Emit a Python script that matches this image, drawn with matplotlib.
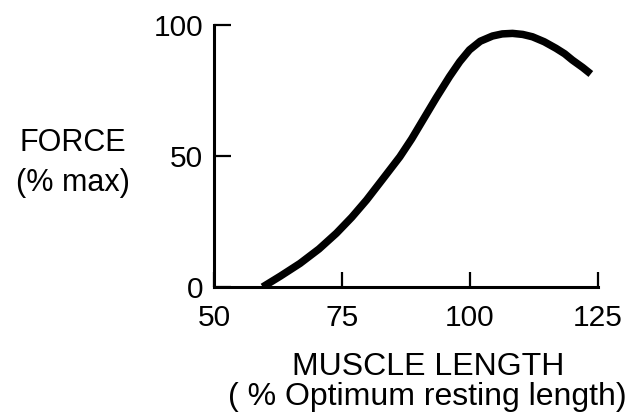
import matplotlib
matplotlib.use("Agg")
import matplotlib.pyplot as plt

# Length–tension relation of skeletal muscle
muscle_length = [59.5, 63.0, 66.8, 70.5, 73.9, 76.9, 79.8, 83.0, 86.3, 88.6, 90.8,
                 93.4, 96.0, 98.0, 99.9, 102.0, 104.4, 106.3, 108.3, 110.3, 112.2,
                 114.5, 116.8, 118.5, 120.0, 122.0, 123.6]
force = [0.0, 4.2, 9.0, 14.5, 20.5, 26.6, 33.2, 41.3, 49.7, 56.5, 63.7,
         72.2, 80.3, 86.0, 90.5, 93.8, 95.8, 96.6, 96.8, 96.4, 95.5,
         93.6, 91.1, 89.0, 86.6, 83.8, 81.3]

x_ticks = [50, 75, 100, 125]
x_tick_labels = ["50", "75", "100", "125"]
y_ticks = [0, 50, 100]
y_tick_labels = ["0", "50", "100"]

plt.rcParams["font.family"] = ["Liberation Sans", "DejaVu Sans"]

fig = plt.figure(figsize=(6.3, 4.18), dpi=100)
ax = fig.add_axes([0.3397, 0.3134, 0.6095, 0.6268])

ax.plot(muscle_length, force, color="black", lw=5.4, solid_capstyle="butt",
        solid_joinstyle="round")

ax.set_xlim(50, 125)
ax.set_ylim(0, 100)
for side in ("top", "right"):
    ax.spines[side].set_visible(False)
for side in ("left", "bottom"):
    ax.spines[side].set_linewidth(2.2)
    ax.spines[side].set_capstyle("projecting")

ax.set_xticks(x_ticks)
ax.set_xticklabels(x_tick_labels)
ax.set_yticks(y_ticks)
ax.set_yticklabels(y_tick_labels)
ax.tick_params(axis="x", direction="in", length=11, width=1.6, pad=12,
               labelsize=21.5)
ax.tick_params(axis="y", direction="in", length=12, width=1.6, pad=8,
               labelsize=21.5)

fig.text(0.679, 0.122, "MUSCLE LENGTH", ha="center", va="center", fontsize=23)
fig.text(0.678, 0.050, "( % Optimum resting length)", ha="center", va="center",
         fontsize=23)
fig.text(0.115, 0.658, "FORCE", ha="center", va="center", fontsize=22)
fig.text(0.116, 0.562, "(% max)", ha="center", va="center", fontsize=22)

fig.savefig("out.png", dpi=100, facecolor="white")
